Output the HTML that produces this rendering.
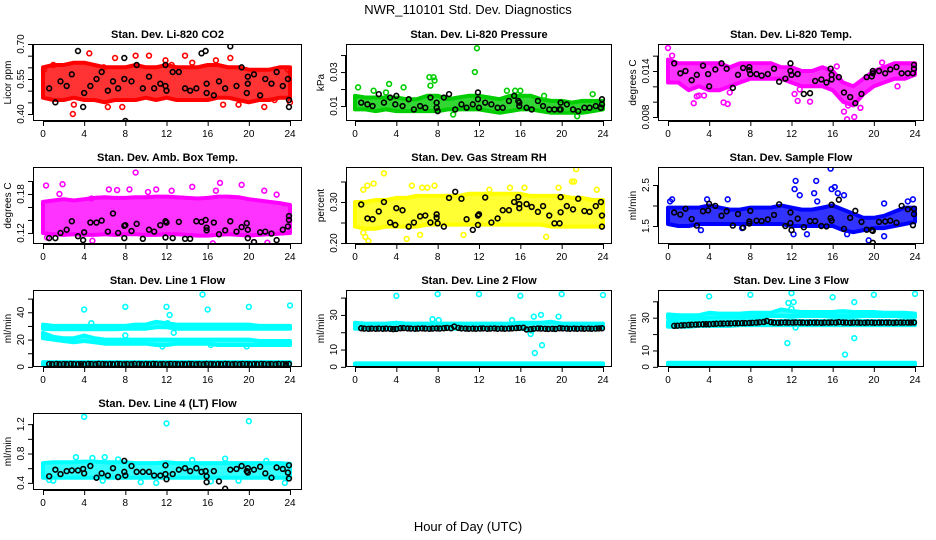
<!DOCTYPE html>
<html><head><meta charset="utf-8"><style>
html,body{margin:0;padding:0;background:#fff;}
svg{display:block;font-family:"Liberation Sans",sans-serif;}
</style></head><body>
<svg id="c" width="936" height="540" viewBox="0 0 936 540">
<text x="468" y="14" text-anchor="middle" font-size="13">NWR_110101  Std. Dev. Diagnostics</text>
<text x="468" y="531" text-anchor="middle" font-size="13">Hour of Day (UTC)</text>
</svg>
<script>
const xTicks=[0,4,8,12,16,20,24];
const bandHours=[0,1,2,3,4,5,6,7,8,9,10,11,12,13,14,15,16,17,18,19,20,21,22,23,24];
const kHours=[0.6,1.2,1.7,2.3,2.8,3.4,3.9,4.0,4.6,5.2,5.7,6.3,6.8,7.3,7.9,7.9,8.0,8.6,9.1,9.7,10.3,10.8,11.4,11.9,11.9,12.0,12.6,13.2,13.8,14.3,14.9,15.4,15.8,15.9,15.9,16.6,17.1,17.7,18.2,18.8,19.3,19.8,19.9,19.9,20.5,21.1,21.6,22.2,22.7,23.3,23.8,23.9,23.9];
const kHoursDense=[0.6,0.9,1.3,1.6,2.0,2.3,2.7,3.0,3.4,3.7,4.0,4.4,4.7,5.1,5.4,5.8,6.1,6.5,6.8,7.2,7.5,7.9,8.2,8.6,8.9,9.3,9.6,10.0,10.3,10.7,11.0,11.4,11.7,12.1,12.4,12.8,13.1,13.5,13.8,14.2,14.5,14.9,15.2,15.6,15.9,16.3,16.6,17.0,17.3,17.7,18.0,18.4,18.7,19.1,19.4,19.8,20.1,20.5,20.8,21.2,21.5,21.9,22.2,22.6,22.9,23.3,23.6,23.9];

// Panel 1 CO2
const p1Lo=[0.47,0.46,0.46,0.47,0.46,0.46,0.45,0.46,0.46,0.46,0.47,0.46,0.47,0.46,0.46,0.46,0.46,0.47,0.47,0.46,0.45,0.46,0.46,0.47,0.47];
const p1Hi=[0.60,0.61,0.61,0.62,0.62,0.61,0.60,0.60,0.60,0.61,0.60,0.60,0.61,0.60,0.60,0.60,0.61,0.61,0.60,0.60,0.59,0.59,0.59,0.60,0.60];
const p1OutH=[0.1,1,2.9,4.5,6.3,7,7.7,9,10.3,11.9,13.8,14.5,16.8,17.5,18.2,19,21.5,22.5,23.8,24,5.9,3,12.5];
const p1OutV=[0.59,0.61,0.40,0.66,0.43,0.64,0.43,0.65,0.65,0.63,0.65,0.62,0.63,0.44,0.64,0.44,0.43,0.46,0.59,0.45,0.60,0.44,0.61];
const p1K=[0.51,0.45,0.54,0.52,0.57,0.67,0.43,0.49,0.52,0.55,0.58,0.50,0.54,0.51,0.64,0.55,0.37,0.54,0.61,0.51,0.56,0.51,0.53,0.61,0.52,0.50,0.58,0.58,0.51,0.50,0.51,0.66,0.67,0.53,0.49,0.48,0.54,0.51,0.69,0.52,0.60,0.49,0.53,0.56,0.57,0.48,0.55,0.53,0.58,0.52,0.55,0.46,0.43];
// Panel 2 Pressure
const p2Lo=[0.008,0.008,0.007,0.008,0.007,0.007,0.007,0.007,0.007,0.008,0.008,0.008,0.008,0.007,0.006,0.007,0.008,0.008,0.007,0.006,0.006,0.006,0.006,0.007,0.008];
const p2Hi=[0.016,0.015,0.015,0.015,0.015,0.014,0.014,0.016,0.016,0.014,0.015,0.016,0.016,0.015,0.014,0.016,0.016,0.016,0.014,0.013,0.013,0.012,0.013,0.013,0.013];
const p2OutH=[0.3,1.8,3.3,4.7,7.2,7.6,7.7,7.3,3,11.6,11.8,14.7,15.5,16,18.3,21.5,23,9.5];
const p2OutV=[0.021,0.019,0.023,0.021,0.027,0.027,0.025,0.022,0.018,0.030,0.044,0.019,0.019,0.019,0.016,0.004,0.017,0.005];
const p2K=[0.012,0.011,0.010,0.017,0.012,0.015,0.011,0.016,0.010,0.014,0.008,0.010,0.009,0.015,0.012,0.009,0.007,0.015,0.017,0.008,0.011,0.009,0.011,0.018,0.014,0.009,0.012,0.011,0.009,0.009,0.013,0.016,0.013,0.010,0.012,0.009,0.008,0.013,0.010,0.008,0.008,0.008,0.012,0.008,0.011,0.008,0.007,0.009,0.009,0.010,0.009,0.014,0.011];
// Panel 3 Li-820 Temp
const p3Lo=[0.0125,0.0125,0.0115,0.0120,0.0115,0.0115,0.0120,0.0125,0.0130,0.0130,0.0130,0.0130,0.0125,0.0120,0.0120,0.0120,0.0115,0.0100,0.0095,0.0110,0.0120,0.0125,0.0130,0.0130,0.0135];
const p3Hi=[0.0155,0.0150,0.0150,0.0150,0.0150,0.0150,0.0145,0.0150,0.0150,0.0150,0.0150,0.0145,0.0145,0.0140,0.0140,0.0145,0.0140,0.0125,0.0120,0.0130,0.0140,0.0145,0.0150,0.0150,0.0150];
const p3OutH=[0,0.4,2.5,3.5,5.4,5.8,4.4,12.3,12.6,13.8,16.4,17.1,17.4,18.1,18.7,20.8,22.3,12.8,2.8,3.0,6.0,17.5];
const p3OutV=[0.0170,0.0160,0.0098,0.0108,0.0099,0.0097,0.0148,0.0110,0.0101,0.0100,0.0146,0.0087,0.0077,0.0080,0.0092,0.0151,0.0120,0.0116,0.0107,0.0108,0.0112,0.0095];
const p3K=[0.0150,0.0137,0.0140,0.0128,0.0135,0.0147,0.0136,0.0120,0.0142,0.0150,0.0143,0.0118,0.0135,0.0144,0.0145,0.0141,0.0136,0.0136,0.0134,0.0136,0.0143,0.0126,0.0130,0.0150,0.0140,0.0135,0.0136,0.0110,0.0111,0.0127,0.0129,0.0125,0.0143,0.0135,0.0129,0.0132,0.0112,0.0106,0.0098,0.0110,0.0132,0.0133,0.0140,0.0137,0.0140,0.0137,0.0142,0.0145,0.0137,0.0137,0.0137,0.0148,0.0143];
// Panel 4 Amb Box Temp
const p4Lo=[0.120,0.118,0.117,0.118,0.117,0.117,0.118,0.117,0.118,0.118,0.117,0.117,0.118,0.118,0.117,0.116,0.116,0.117,0.118,0.117,0.116,0.117,0.118,0.119,0.120];
const p4Hi=[0.168,0.170,0.172,0.170,0.172,0.174,0.175,0.174,0.174,0.175,0.175,0.176,0.176,0.175,0.174,0.173,0.174,0.176,0.176,0.175,0.172,0.170,0.168,0.166,0.163];
const p4OutH=[0.3,1.9,1.6,4.7,6.4,7.2,8.4,9,10.2,11,12.5,14.5,16.8,17.2,19.3,21.5,22.7,4.8,16.5,20.5,21.8,0.4];
const p4OutV=[0.193,0.195,0.180,0.173,0.187,0.186,0.187,0.213,0.183,0.187,0.185,0.191,0.185,0.197,0.194,0.185,0.179,0.108,0.104,0.106,0.105,0.113];
const p4K=[0.112,0.112,0.120,0.125,0.138,0.115,0.109,0.121,0.136,0.136,0.139,0.122,0.150,0.120,0.112,0.131,0.132,0.123,0.134,0.111,0.125,0.122,0.132,0.138,0.113,0.136,0.112,0.137,0.111,0.111,0.138,0.137,0.140,0.128,0.124,0.136,0.118,0.124,0.138,0.122,0.129,0.135,0.125,0.112,0.106,0.121,0.122,0.119,0.109,0.125,0.130,0.140,0.146];
// Panel 5 RH
const p5Lo=[0.240,0.235,0.235,0.240,0.240,0.240,0.240,0.245,0.245,0.245,0.245,0.245,0.245,0.245,0.245,0.245,0.245,0.245,0.245,0.240,0.240,0.240,0.240,0.240,0.240];
const p5Hi=[0.300,0.300,0.305,0.305,0.310,0.310,0.315,0.315,0.315,0.315,0.315,0.320,0.320,0.320,0.320,0.320,0.320,0.315,0.315,0.315,0.315,0.310,0.310,0.305,0.305];
const p5OutH=[0.8,1.2,1.8,2.8,5.5,6.5,7,7.7,13,15,16.4,19.7,21,21.2,21.4,23.4,0.8,1.3,1,5,10.5,18.5,6.3];
const p5OutV=[0.33,0.34,0.345,0.37,0.34,0.335,0.335,0.34,0.33,0.335,0.335,0.335,0.35,0.35,0.38,0.33,0.225,0.205,0.215,0.21,0.22,0.215,0.22];
const p5K=[0.294,0.260,0.258,0.277,0.300,0.250,0.244,0.285,0.280,0.240,0.250,0.265,0.267,0.250,0.270,0.262,0.248,0.240,0.310,0.325,0.308,0.258,0.232,0.244,0.267,0.270,0.311,0.250,0.260,0.280,0.280,0.300,0.312,0.295,0.285,0.295,0.288,0.276,0.290,0.267,0.248,0.248,0.275,0.312,0.290,0.282,0.308,0.278,0.276,0.290,0.300,0.267,0.240];
// Panel 6 Sample Flow
const p6Lo=[1.55,1.50,1.50,1.55,1.55,1.55,1.55,1.55,1.55,1.55,1.55,1.55,1.50,1.50,1.50,1.50,1.50,1.40,1.35,1.40,1.45,1.45,1.50,1.55,1.60];
const p6Hi=[1.95,1.95,1.95,1.95,2.00,1.95,1.90,1.90,1.95,1.95,1.95,2.00,1.95,1.90,1.90,1.95,2.00,1.90,1.80,1.70,1.70,1.75,1.85,1.95,1.95];
const p6OutH=[0.2,0.4,3.8,5.8,12.4,12.3,12.8,14.4,14.2,15.8,15.9,16.2,16.5,17.1,21,21,23.3,23.8,19.5,17.4,13.5,12.2,3.2,7.2,14.5];
const p6OutV=[2.1,2.15,2.15,2.15,2.6,2.4,2.25,2.6,2.3,2.9,2.4,2.45,2.3,2.25,2.05,1.25,2.1,2.15,1.15,1.3,1.3,1.3,1.4,1.45,2.1];
const p6K=[1.83,1.78,1.92,1.67,1.51,1.86,1.88,2.04,1.99,1.75,1.86,1.51,1.79,1.46,1.61,1.56,1.87,1.63,1.62,1.66,1.77,2.03,1.50,1.83,1.57,1.40,1.68,1.47,1.62,1.62,1.50,1.49,1.69,1.63,2.02,2.14,1.43,1.70,1.87,1.60,1.41,1.40,1.38,1.09,1.60,1.61,1.63,1.58,1.99,1.91,1.52,1.79,1.92];
// Panel 7 Line 1 Flow
const p7LoA=[28,27.5,27.5,27.5,27.5,27.5,27.5,27.5,28,28,28,29,29,28,28,28,28,28,28,28,28,28,28,28,28];
const p7HiA=[31,30,30,30,30,30,30,30,30,31,31,33,32,31,31,31,31,31,31,31,31,30,30,30,30];
const p7LoB=[21,20,19,18,19,18,17,17,17,17,17,16,16,17,17,17,17,16,16,16,16,16,16,16,16];
const p7HiB=[25,22,21,21,23,21,20,20,20,20,20,20,20,20,20,20,20,20,20,20,20,19,19,19,19];
const p7LoC=[1,1,1,1,1,1,1,1,1,1,1,1,1,1,1,1,1,1,1,1,1,1,1,1,1];
const p7HiC=[3.5,3.5,3.5,3.5,3.5,3.5,3.5,3.5,3.5,3.5,3.5,3.5,3.5,3.5,3.5,3.5,3.5,3.5,3.5,3.5,3.5,3.5,3.5,3.5,3.5];
const p7OutH=[4,8,12,15.5,16,20,24,12.3,12.1,12.7,11.6,16.3,19.8,8,4.7];
const p7OutV=[42,44,44,53,42,44,45,38,32,25,15,16,15,23,32];
const p7K=[2.1,2.0,2.2,2.0,2.1,2.0,2.2,2.1,2.0,2.1,2.0,2.2,2.1,2.0,2.3,2.1,2.0,2.1,2.0,2.2,2.1,2.0,2.1,2.0,2.2,2.1,2.0,2.1,2.0,2.2,2.1,2.0,2.1,2.0,2.2,2.1,2.0,2.1,2.0,2.2,2.1,2.0,2.1,2.0,2.2,2.1,2.0,2.1,2.0,2.2,2.1,2.0,2.1,2.0,2.2,2.1,2.0,2.1,2.0,2.2,2.1,2.0,2.1,2.0,2.2,2.1,2.0,2.1];
// Panel 8 Line 2 Flow
const p8LoA=[22,22,22,22,22,22,22,22,22,22,22,22,22,22,22,22,22,21.5,22,22,22,22,22,22,22];
const p8HiA=[25.5,25,25,25,25.5,25,25,25,25,25,25,25,25,25,25,25,25.5,25.5,25.5,26,25,25,25,25,25];
const p8LoC=[0.5,0.5,0.5,0.5,0.5,0.5,0.5,0.5,0.5,0.5,0.5,0.5,0.5,0.5,0.5,0.5,0.5,0.5,0.5,0.5,0.5,0.5,0.5,0.5,0.5];
const p8HiC=[2,2,2,2,2,2,2,2,2,2,2,2,2,2,2,2,2,2,2,2,2,2,2,2,2];
const p8OutH=[4,8,12,16,20,24,17.3,18,19.7,17,17.4,18.1,7.5,8.1,15.2,17.1];
const p8OutV=[41,42,42,41,42,41.5,29,30,29,19,8,12.5,27.5,27,27,21];
const p8K=[22.3,22.1,22.0,22.1,22.0,22.1,22.0,22.1,22.0,21.8,21.9,22.3,22.4,22.2,22.1,22.0,22.1,22.2,22.1,22.0,22.1,22.2,22.1,22.3,22.5,22.3,23.3,22.5,22.2,22.1,22.0,22.1,22.0,22.1,22.2,22.0,22.1,22.2,22.0,22.1,22.0,22.1,22.2,22.4,22.5,22.6,21.6,21.8,22.0,22.2,22.1,22.0,21.9,22.0,21.9,22.3,22.2,22.1,22.0,22.1,22.0,22.1,22.0,22.1,22.0,22.1,22.2,22.3];
// Panel 9 Line 3 Flow
const p9LoA=[29.5,29.5,29.5,29.5,30,30,30,30,30.5,30.5,31,31,31,31,31,31,31,31,31,31,31,31,31,30.5,30.5];
const p9HiA=[32,31.5,31.5,31.5,33,32.5,32.5,32.5,33,33,33,35,34,33.5,33.5,33.5,33.5,34,33.5,33.5,33.5,33,33,33,32.5];
const p9LoB=[24.5,24.5,24.5,25,25,25,25,25.5,25.5,25.5,25.5,25.5,25.5,25.5,25.5,25.5,25.5,25.5,25.5,25.5,25.5,25.5,25.5,25.5,25.5];
const p9HiB=[27.5,27,27,27,27.5,27.5,27.5,27.5,28,28.5,28,28,28.5,28,28,28,28.5,28.5,28.5,28,28,28,28,28,28];
const p9LoC=[0.5,0.5,0.5,0.5,0.5,0.5,0.5,0.5,0.5,0.5,0.5,0.5,0.5,0.5,0.5,0.5,0.5,0.5,0.5,0.5,0.5,0.5,0.5,0.5,0.5];
const p9HiC=[2.5,2.5,2.5,2.5,2.5,2.5,2.5,2.5,2.5,2.5,2.5,2.5,2.5,2.5,2.5,2.5,2.5,2.5,2.5,2.5,2.5,2.5,2.5,2.5,2.5];
const p9OutH=[4,8,12,16,20,24,12.2,11.7,18.1,11.6,17.2,18.1,12.4,12];
const p9OutV=[43,44,45,42.5,44,44.5,39.5,39,39.5,14.5,7.5,17.5,24,35.5];
const p9K=[25.0,25.1,25.3,25.4,25.6,25.7,25.8,25.9,26.0,26.0,26.0,26.2,26.3,26.4,26.4,26.5,26.5,26.6,26.6,26.7,26.7,26.8,26.9,27.0,27.2,27.4,28.0,27.3,27.0,26.9,27.0,27.1,27.0,27.0,27.1,27.0,27.0,26.9,27.0,27.0,27.0,26.9,27.0,27.0,27.1,27.0,27.3,27.1,27.0,26.9,27.0,27.0,26.9,26.9,27.0,27.0,26.9,27.0,27.0,27.0,27.0,26.9,27.0,27.0,27.0,27.0,27.0,27.1];
// Panel 10 Line 4 (LT) Flow
const p10Lo=[0.47,0.47,0.47,0.47,0.47,0.47,0.47,0.47,0.47,0.47,0.47,0.47,0.47,0.47,0.47,0.47,0.47,0.47,0.47,0.47,0.47,0.47,0.47,0.47,0.47];
const p10Hi=[0.67,0.68,0.68,0.68,0.69,0.69,0.68,0.68,0.68,0.67,0.67,0.67,0.68,0.67,0.67,0.67,0.67,0.67,0.67,0.67,0.67,0.67,0.67,0.67,0.66];
const p10OutH=[4,12,20,0.6,1,3.2,4.8,6,7.3,9.5,11,14.5,17.7,19,21.7,23.5,5.8,16.3];
const p10OutV=[1.30,1.21,1.24,0.44,0.43,0.75,0.74,0.75,0.72,0.41,0.40,0.71,0.73,0.43,0.70,0.40,0.43,0.42];
const p10K=[0.49,0.58,0.52,0.56,0.57,0.57,0.59,0.53,0.63,0.47,0.53,0.50,0.60,0.48,0.70,0.55,0.50,0.63,0.55,0.55,0.55,0.50,0.50,0.64,0.52,0.45,0.52,0.58,0.60,0.56,0.60,0.55,0.56,0.49,0.41,0.56,0.42,0.32,0.58,0.59,0.63,0.56,0.60,0.54,0.58,0.62,0.53,0.47,0.61,0.59,0.54,0.64,0.46];

const cols=[{l:33,r:302,x0:43,x24:290},{l:346,r:612,x0:355,x24:603},{l:658,r:924,x0:668,x24:915}];
const rows=[{t:44,b:121},{t:167,b:244},{t:290,b:367},{t:413,b:490}];
const panels=[
 {c:0,r:0,title:"Stan. Dev. Li-820 CO2",yt:"Licor ppm",ymin:0.37,ymax:0.70,ticks:[0.40,0.45,0.50,0.55,0.60,0.65,0.70],labs:["0.40","","","0.55","","","0.70"],col:"#ff0000",bands:[[p1Lo,p1Hi]],oh:p1OutH,ov:p1OutV,kh:kHours,kv:p1K},
 {c:1,r:0,title:"Stan. Dev. Li-820 Pressure",yt:"kPa",ymin:0.0012,ymax:0.0465,ticks:[0.01,0.02,0.03,0.04],labs:["0.01","","0.03",""],col:"#00cd00",bands:[[p2Lo,p2Hi]],oh:p2OutH,ov:p2OutV,kh:kHours,kv:p2K},
 {c:2,r:0,title:"Stan. Dev. Li-820 Temp.",yt:"degrees C",ymin:0.00748,ymax:0.01752,ticks:[0.008,0.010,0.012,0.014,0.016],labs:["0.008","","","0.014",""],col:"#ff00ff",bands:[[p3Lo,p3Hi]],oh:p3OutH,ov:p3OutV,kh:kHours,kv:p3K},
 {c:0,r:1,title:"Stan. Dev. Amb. Box Temp.",yt:"degrees C",ymin:0.103,ymax:0.2215,ticks:[0.12,0.14,0.16,0.18,0.20],labs:["0.12","","","0.18",""],col:"#ff00ff",bands:[[p4Lo,p4Hi]],oh:p4OutH,ov:p4OutV,kh:kHours,kv:p4K},
 {c:1,r:1,title:"Stan. Dev. Gas Stream RH",yt:"percent",ymin:0.1976,ymax:0.3854,ticks:[0.20,0.25,0.30,0.35],labs:["0.20","","0.30",""],col:"#ffff00",bands:[[p5Lo,p5Hi]],oh:p5OutH,ov:p5OutV,kh:kHours,kv:p5K},
 {c:2,r:1,title:"Stan. Dev. Sample Flow",yt:"ml/min",ymin:1.061,ymax:2.939,ticks:[1.5,2.0,2.5],labs:["1.5","","2.5"],col:"#0000ff",bands:[[p6Lo,p6Hi]],oh:p6OutH,ov:p6OutV,kh:kHours,kv:p6K},
 {c:0,r:2,title:"Stan. Dev. Line 1 Flow",yt:"ml/min",ymin:-0.07,ymax:56.3,ticks:[0,10,20,30,40,50],labs:["0","","20","","40",""],col:"#00ffff",bands:[[p7LoA,p7HiA],[p7LoB,p7HiB],[p7LoC,p7HiC]],oh:p7OutH,ov:p7OutV,kh:kHoursDense,kv:p7K},
 {c:1,r:2,title:"Stan. Dev. Line 2 Flow",yt:"ml/min",ymin:-0.09,ymax:44.4,ticks:[0,10,20,30,40],labs:["0","10","","30",""],col:"#00ffff",bands:[[p8LoA,p8HiA],[p8LoC,p8HiC]],oh:p8OutH,ov:p8OutV,kh:kHoursDense,kv:p8K},
 {c:2,r:2,title:"Stan. Dev. Line 3 Flow",yt:"ml/min",ymin:-0.1,ymax:46.9,ticks:[0,10,20,30,40],labs:["0","10","","30",""],col:"#00ffff",bands:[[p9LoA,p9HiA],[p9LoB,p9HiB],[p9LoC,p9HiC]],oh:p9OutH,ov:p9OutV,kh:kHoursDense,kv:p9K},
 {c:0,r:3,title:"Stan. Dev. Line 4 (LT) Flow",yt:"ml/min",ymin:0.303,ymax:1.352,ticks:[0.4,0.6,0.8,1.0,1.2],labs:["0.4","","0.8","","1.2"],col:"#00ffff",bands:[[p10Lo,p10Hi]],oh:p10OutH,ov:p10OutV,kh:kHours,kv:p10K}
];
const NS="http://www.w3.org/2000/svg";
const svg=document.getElementById('c');
function mk(tag,attrs,parent){const e=document.createElementNS(NS,tag);for(const k in attrs)e.setAttribute(k,attrs[k]);parent.appendChild(e);return e;}
panels.forEach((p,pi)=>{
  const C=cols[p.c],R=rows[p.r];
  const xs=h=>C.x0+h/24*(C.x24-C.x0);
  const ys=v=>R.b-(v-p.ymin)/(p.ymax-p.ymin)*(R.b-R.t);
  const g=mk('g',{},svg);
  
  
  const clipId='clip'+pi;
  const cp=mk('clipPath',{id:clipId},g);
  mk('rect',{x:C.l,y:R.t,width:C.r-C.l,height:R.b-R.t},cp);
  const plot=mk('g',{'clip-path':'url(#'+clipId+')'},g);
  
  
  p.bands.forEach((bd,bi)=>{
    const lo=bd[0],hi=bd[1];
    let d='';
    bandHours.forEach((h,i)=>{d+=(i?'L':'M')+xs(h).toFixed(1)+','+ys(hi[i]).toFixed(1);});
    for(let i=bandHours.length-1;i>=0;i--){d+='L'+xs(bandHours[i]).toFixed(1)+','+ys(lo[i]).toFixed(1);}
    d+='Z';
    const pa=mk('path',{d:d,fill:p.col,'fill-opacity':0.8,stroke:p.col,'stroke-width':4,'stroke-linejoin':'round'},plot);
    
    
  });
  p.oh.forEach((h,i)=>{
    const c=mk('circle',{cx:xs(h),cy:ys(p.ov[i]),r:2.4,fill:'none',stroke:p.col,'stroke-width':1.6},plot);
    
    
  });
  p.kh.forEach((h,i)=>{
    const c=mk('circle',{cx:xs(h),cy:ys(p.kv[i]),r:2.4,fill:'none',stroke:'#000','stroke-width':1.6},plot);
    
    
  });
  const box=mk('rect',{x:C.l+0.5,y:R.t+0.5,width:C.r-C.l-1,height:R.b-R.t-1,fill:'none',stroke:'#000','stroke-width':1},g);
  
  
  const t=mk('text',{x:(C.l+C.r)/2,y:R.t-6,'text-anchor':'middle','font-size':11,'font-weight':'bold'},g);
  t.textContent=p.title;
  
  
  const xa=mk('g',{},g);
  
  
  mk('line',{x1:xs(0),x2:xs(24),y1:R.b+0.5,y2:R.b+0.5,stroke:'#000'},xa);
  xTicks.forEach(v=>{
    mk('line',{x1:xs(v)+0.5,x2:xs(v)+0.5,y1:R.b,y2:R.b+5,stroke:'#000'},xa);
    const tl=mk('text',{x:xs(v),y:R.b+16,'text-anchor':'middle','font-size':10},xa);
    tl.textContent=String(v);
    
    
  });
  const ya=mk('g',{},g);
  
  
  const yTop=ys(p.ticks[p.ticks.length-1]),yBot=ys(p.ticks[0]);
  mk('line',{x1:C.l-0.5,x2:C.l-0.5,y1:yTop,y2:yBot,stroke:'#000'},ya);
  p.ticks.forEach((v,i)=>{
    const y=ys(v);
    mk('line',{x1:C.l-5,x2:C.l,y1:y+0.5,y2:y+0.5,stroke:'#000'},ya);
    if(p.labs[i]){
      const tl=mk('text',{x:0,y:0,'text-anchor':'middle','font-size':10,transform:'translate('+(C.l-9)+','+y+') rotate(-90)'},ya);
      tl.textContent=p.labs[i];
      
      
    }
  });
  const yt=mk('text',{x:0,y:0,'text-anchor':'middle','font-size':10,transform:'translate('+(C.l-22)+','+((R.t+R.b)/2)+') rotate(-90)'},g);
  yt.textContent=p.yt;
  
  
});
</script>
</body></html>
